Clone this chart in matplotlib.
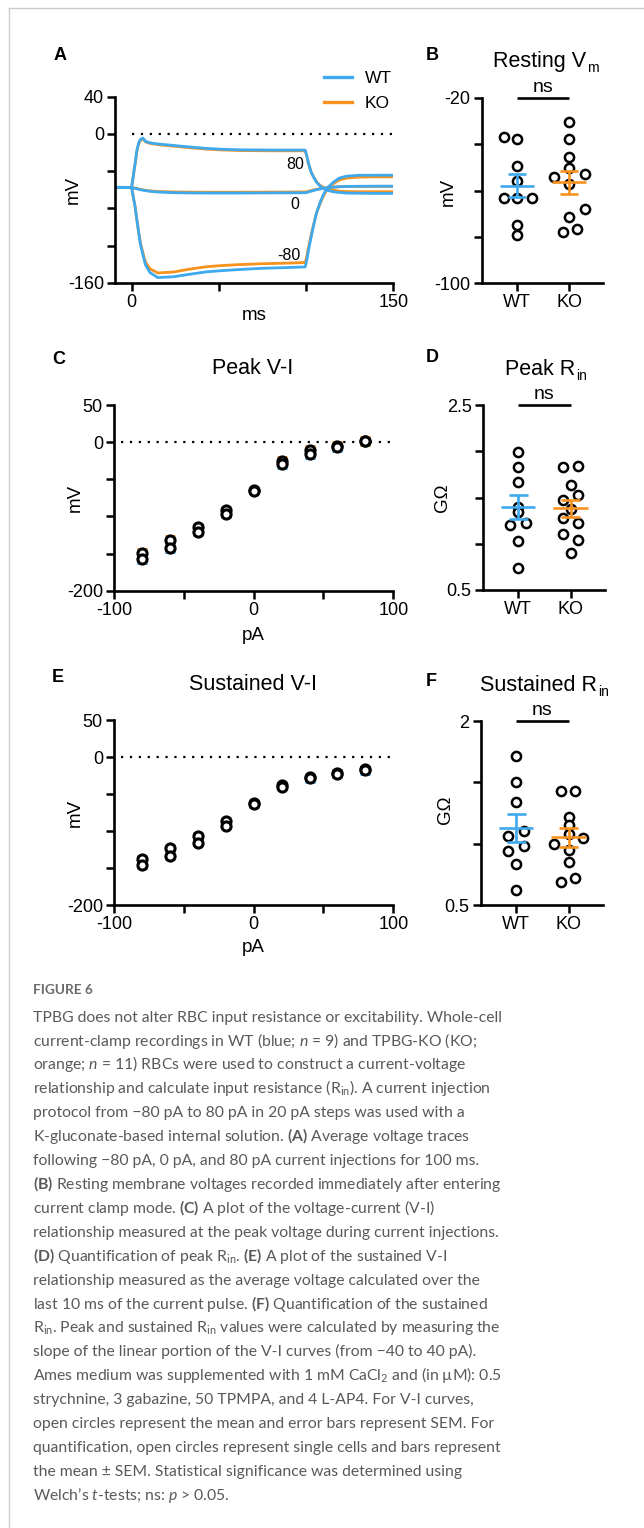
"""Figure 6: RBC input resistance and excitability, WT vs TPBG-KO."""

import matplotlib
matplotlib.use("Agg")
import matplotlib.pyplot as plt
from matplotlib.lines import Line2D

W, H = 644, 1528

plt.rcParams["font.family"] = ["Liberation Sans", "DejaVu Sans"]
plt.rcParams["mathtext.fontset"] = "custom"
plt.rcParams["mathtext.rm"] = "Lato"
plt.rcParams["mathtext.it"] = "Lato:italic"
plt.rcParams["mathtext.bf"] = "Lato:bold"

BLUE = "#3ea9ee"
ORANGE = "#f7921e"

# ---- data ---------------------------------------------------------------
# A: averaged voltage traces (ms, mV)
trace_t = [-10, -5, 0, 1, 2, 3, 4, 5, 6.5, 8, 10.5, 15, 24, 33, 43, 52, 62,
           75, 88, 99.5, 100.5, 101.3, 103, 104.5, 106, 108, 110, 112, 115.6,
           119, 123, 130, 140, 150]
wt_p80 = [-57.5, -57.5, -57.6, -45, -32, -18, -10, -6, -4.5, -8, -9.6, -10.8,
          -12.4, -14, -15.6, -16.5, -17.1, -17.3, -17.4, -17.4, -24, -31,
          -41.6, -47, -52, -56, -58.7, -60.5, -62.2, -63, -63.6, -63.8, -64, -64]
ko_p80 = [-57.5, -57.5, -57.6, -45, -33, -19, -11, -7, -5.5, -8.5, -10.2,
          -11.5, -13.2, -14.8, -16.4, -17.3, -17.9, -18.1, -18.2, -18.2, -24.5,
          -31.5, -41.5, -46.8, -51.5, -55.2, -57.6, -59.2, -60.6, -61.5, -62,
          -62.2, -62.2, -62.2]
wt_0 = [-57.5, -57.5, -57.6, -58, -58.5, -59, -59.5, -60, -60.5, -61, -61.7,
        -62.5, -63.2, -63.5, -63.6, -63.6, -63.6, -63.5, -63.4, -63.3, -63,
        -62.5, -61.5, -60.7, -60, -59.2, -58.5, -58, -57.3, -56.8, -56.5,
        -56.3, -56.2, -56.2]
ko_0 = [-57.5, -57.5, -57.6, -58, -58.4, -58.8, -59.2, -59.6, -60.1, -60.6,
        -61.2, -61.9, -62.4, -62.6, -62.7, -62.7, -62.7, -62.6, -62.5, -62.4,
        -62.1, -61.7, -60.9, -60.2, -59.6, -58.9, -58.3, -57.8, -57.2, -56.8,
        -56.6, -56.5, -56.4, -56.4]
wt_m80 = [-57.5, -57.5, -57.6, -68, -78, -92, -105, -118, -130, -141, -149,
          -154.5, -153.6, -151, -148.3, -147, -145.8, -144.5, -143.8, -143,
          -135, -126, -110, -97, -85, -74, -65, -58.5, -52, -47.5, -45.5,
          -44.5, -44.4, -44.4]
ko_m80 = [-57.5, -57.5, -57.6, -68, -78, -92, -105, -117, -128, -138, -145,
          -149.5, -148.5, -145.5, -142.8, -141.5, -140.5, -139.6, -139, -138.3,
          -131, -123, -108, -96, -85, -75, -66.5, -60, -53.5, -49.5, -47.5,
          -46.5, -46.2, -46.2]
trace_labels = ["80", "0", "-80"]
trace_label_t = [93.6, 93.6, 90]
trace_label_v = [-32.7, -76, -131]

# B: resting Vm (mV)
rest_wt = [-36.8, -37.9, -49.3, -56.0, -63.4, -63.4, -63.4, -74.8, -79.2]
rest_wt_dx = [-0.25, 0, 0, 0, -0.25, 0, 0.28, 0, 0]
rest_ko = [-30.3, -37.9, -45.4, -50.4, -54.0, -53.0, -57.0, -68.1, -71.3,
           -77.7, -76.7]
rest_ko_dx = [0, 0, 0, 0, -0.28, 0.3, 0, 0.3, 0, -0.12, 0.16]
rest_mean = [-58.0, -56.5]
rest_sem = [4.95, 4.8]

# C / E: V-I curves (pA, mV)
currents = [-80, -60, -40, -20, 0, 20, 40, 60, 80]
peak_wt = [-157.8, -142.9, -121.3, -96.6, -65.6, -29.7, -15.7, -6.7, 0.9]
peak_ko = [-148.8, -131.7, -114.6, -91.2, -64.3, -25.2, -11.2, -4.9, 1.8]
peak_wt_sem = [5.5, 5.5, 4, 4, 3, 5.5, 5.5, 5.5, 5]
peak_ko_sem = [5.5, 5.5, 4, 4, 3, 5.5, 5.5, 5, 5.5]
sus_wt = [-145.9, -133.8, -115.8, -92.8, -64.0, -40.1, -28.8, -22.5, -18.0]
sus_ko = [-138.3, -123.4, -106.3, -86.5, -62.6, -37.8, -27.5, -21.2, -16.7]
sus_wt_sem = [4.5, 4.5, 3.5, 3.5, 3, 3, 4.5, 4.5, 4.5]
sus_ko_sem = [4.5, 4, 3.5, 3.5, 3, 3, 3.5, 3.5, 3.5]

# D: peak Rin (GOhm)
prin_wt = [1.995, 1.833, 1.671, 1.40, 1.347, 1.203, 1.228, 1.030, 0.741]
prin_wt_dx = [0, 0, 0, 0, 0, -0.15, 0.15, 0, 0]
prin_ko = [1.833, 1.841, 1.635, 1.527, 1.473, 1.38, 1.275, 1.228, 1.105,
           1.041, 0.904]
prin_ko_dx = [-0.14, 0.15, 0, 0.15, -0.14, 0, -0.14, 0.15, -0.14, 0.15, 0]
prin_mean = [1.394, 1.383]
prin_sem = [0.13, 0.09]

# F: sustained Rin (GOhm)
srin_wt = [1.715, 1.503, 1.342, 1.103, 1.065, 0.984, 0.940, 0.834, 0.622]
srin_wt_dx = [0, 0, 0, 0.15, -0.15, 0.15, -0.15, 0, 0]
srin_ko = [1.429, 1.429, 1.220, 1.152, 1.08, 0.995, 1.043, 0.95, 0.853,
           0.690, 0.723]
srin_ko_dx = [-0.14, 0.13, 0, 0, 0, -0.27, 0.27, 0, 0, -0.14, 0.13]
srin_mean = [1.125, 1.052]
srin_sem = [0.115, 0.078]

groups = ["WT", "KO"]

caption_lines = [
    "TPBG does not alter RBC input resistance or excitability. Whole-cell",
    "current-clamp recordings in WT (blue; $\\mathit{n}$ = 9) and TPBG-KO (KO;",
    "orange; $\\mathit{n}$ = 11) RBCs were used to construct a current-voltage",
    "relationship and calculate input resistance ($\\mathrm{R}_{\\mathrm{in}}$). A current injection",
    "protocol from \u221280 pA to 80 pA in 20 pA steps was used with a",
    "K-gluconate-based internal solution. $\\mathbf{(A)}$ Average voltage traces",
    "following \u221280 pA, 0 pA, and 80 pA current injections for 100 ms.",
    "$\\mathbf{(B)}$ Resting membrane voltages recorded immediately after entering",
    "current clamp mode. $\\mathbf{(C)}$ A plot of the voltage-current (V-I)",
    "relationship measured at the peak voltage during current injections.",
    "$\\mathbf{(D)}$ Quantification of peak $\\mathrm{R}_{\\mathrm{in}}$. $\\mathbf{(E)}$ A plot of the sustained V-I",
    "relationship measured as the average voltage calculated over the",
    "last 10 ms of the current pulse. $\\mathbf{(F)}$ Quantification of the sustained",
    "$\\mathrm{R}_{\\mathrm{in}}$. Peak and sustained $\\mathrm{R}_{\\mathrm{in}}$ values were calculated by measuring the",
    "slope of the linear portion of the V-I curves (from \u221240 to 40 pA).",
    "Ames medium was supplemented with 1 mM $\\mathrm{CaCl}_{2}$ and (in \u00b5M): 0.5",
    "strychnine, 3 gabazine, 50 TPMPA, and 4 L-AP4. For V-I curves,",
    "open circles represent the mean and error bars represent SEM. For",
    "quantification, open circles represent single cells and bars represent",
    "the mean \u00b1 SEM. Statistical significance was determined using",
    "Welch\u2019s $\\mathit{t}$-tests; ns: $\\mathit{p}$ > 0.05.",
]

# ---- layout helpers -----------------------------------------------------
fig = plt.figure(figsize=(W / 100, H / 100), dpi=100)


def add_ax(left, top, right, bottom):
    ax = fig.add_axes([left / W, 1 - bottom / H, (right - left) / W,
                       (bottom - top) / H])
    for side in ("top", "right"):
        ax.spines[side].set_visible(False)
    for side in ("left", "bottom"):
        ax.spines[side].set_linewidth(1.9)
    ax.tick_params(direction="out", length=6, width=1.8, labelsize=13,
                   pad=2)
    return ax


def fig_text(x, y, s, **kw):
    return fig.text(x / W, 1 - y / H, s, **kw)


def title_with_sub(ax, x, main, sub):
    t = ax.text(x, 1.194, main, transform=ax.transAxes, ha="left",
                va="center", fontsize=15.5)
    ax.annotate(sub, xy=(1, 0), xycoords=t, xytext=(0.5, 0),
                textcoords="offset points", ha="left", va="baseline",
                fontsize=10)


def dot_panel(ax, wt, wt_dx, ko, ko_dx, means, sems):
    for i, (vals, dx) in enumerate([(wt, wt_dx), (ko, ko_dx)]):
        ax.plot([i + d for d in dx], vals, "o", mfc="white", mec="black",
                ms=6.6, mew=1.8, zorder=2)
    for i, colour in enumerate([BLUE, ORANGE]):
        m, s = means[i], sems[i]
        ax.hlines(m, i - 0.33, i + 0.33, color=colour, lw=1.9, zorder=3)
        ax.vlines(i, m - s, m + s, color=colour, lw=1.9, zorder=3)
        ax.hlines([m - s, m + s], i - 0.18, i + 0.18, color=colour, lw=1.9,
                  zorder=3)
    ax.set_xlim(-0.68, 1.66)
    ax.set_xticks([0, 1])
    ax.set_xticklabels(groups)
    top = ax.get_ylim()[1]
    ax.hlines(top, 0, 1, color="black", lw=1.9, clip_on=False)
    ax.annotate("ns", xy=(0.5, top), xytext=(0, 7.5),
                textcoords="offset points", ha="center", va="center",
                fontsize=14, annotation_clip=False)


def vi_panel(ax, wt, wt_sem, ko, ko_sem):
    ax.hlines(0, -95, 100, color="black", lw=1.6, linestyles=(0, (1, 3)))
    ax.errorbar(currents, wt, yerr=wt_sem, fmt="none", ecolor=BLUE,
                elinewidth=2, capsize=3.3, capthick=2, zorder=2)
    ax.errorbar(currents, ko, yerr=ko_sem, fmt="none", ecolor=ORANGE,
                elinewidth=2, capsize=3.3, capthick=2, zorder=2)
    ax.plot(currents, ko, "o", mfc="white", mec="black", ms=6.6, mew=2.2,
            zorder=3)
    ax.plot(currents, wt, "o", mfc="white", mec="black", ms=6.6, mew=2.2,
            zorder=3)
    ax.set_xlim(-100, 100)
    ax.set_ylim(-200, 50)
    ax.set_yticks([-200, -150, -100, -50, 0, 50])
    ax.set_yticklabels(["-200", "", "", "", "0", "50"])
    ax.set_xticks([-100, -50, 0, 50, 100])
    ax.set_xticklabels(["-100", "", "0", "", "100"])
    ax.set_xlabel("pA", fontsize=13.5)
    ax.set_ylabel("mV", fontsize=13.5)


# ---- A: traces ----------------------------------------------------------
axA = add_ax(115, 96.7, 393.3, 282.7)
axA.hlines(0, 0, 150, color="black", lw=1.6, linestyles=(0, (1, 3)))
for ko_v in [ko_p80, ko_0, ko_m80]:
    axA.plot(trace_t, ko_v, color=ORANGE, lw=2, solid_joinstyle="round")
for wt_v in [wt_p80, wt_0, wt_m80]:
    axA.plot(trace_t, wt_v, color=BLUE, lw=2, solid_joinstyle="round")
for lab, tx, vy in zip(trace_labels, trace_label_t, trace_label_v):
    axA.text(tx, vy, lab, ha="center", va="center", fontsize=11.5)
axA.set_xlim(-9.5, 150)
axA.set_ylim(-160, 40)
axA.set_yticks([-160, -120, -80, -40, 0, 40])
axA.set_yticklabels(["-160", "", "", "", "0", "40"])
axA.set_xticks([0, 50, 100, 150])
axA.set_xticklabels(["0", "", "", "150"])
axA.set_xlabel("ms", fontsize=13.5)
axA.set_ylabel("mV", fontsize=13.5)
axA.xaxis.set_label_coords(0.5, -0.179)
axA.xaxis.label.set_va("center")
axA.yaxis.set_label_coords(-0.151, 0.5)
axA.yaxis.label.set_va("center")
leg_handles = [Line2D([], [], color=BLUE, lw=2.4),
               Line2D([], [], color=ORANGE, lw=2.4)]
fig.legend(leg_handles, groups, loc="upper left",
           bbox_to_anchor=(324 / W, 1 - 70.8 / H), frameon=False,
           fontsize=12.5, handlelength=1.6, handletextpad=0.75,
           labelspacing=0.55, borderpad=0, borderaxespad=0)

# ---- B: resting Vm ------------------------------------------------------
axB = add_ax(481.7, 97.7, 603.3, 283.3)
axB.set_ylim(-100, -20)
axB.set_yticks([-100, -80, -60, -40, -20])
axB.set_yticklabels(["-100", "", "", "", "-20"])
dot_panel(axB, rest_wt, rest_wt_dx, rest_ko, rest_ko_dx, rest_mean, rest_sem)
axB.set_ylabel("mV", fontsize=13.5)
axB.yaxis.set_label_coords(-0.277, 0.49)
axB.yaxis.label.set_va("center")
title_with_sub(axB, 0.095, "Resting V", "m")

# ---- C: peak V-I --------------------------------------------------------
axC = add_ax(114, 405, 393.3, 590.7)
vi_panel(axC, peak_wt, peak_wt_sem, peak_ko, peak_ko_sem)
axC.xaxis.set_label_coords(0.5, -0.239)
axC.xaxis.label.set_va("center")
axC.yaxis.set_label_coords(-0.14, 0.5)
axC.yaxis.label.set_va("center")
axC.text(0.498, 1.194, "Peak V-I", transform=axC.transAxes, ha="center",
         va="center", fontsize=15.5)

# ---- D: peak Rin --------------------------------------------------------
axD = add_ax(482.7, 405, 605, 590)
axD.set_ylim(0.5, 2.5)
axD.set_yticks([0.5, 1.0, 1.5, 2.0, 2.5])
axD.set_yticklabels(["0.5", "", "", "", "2.5"])
dot_panel(axD, prin_wt, prin_wt_dx, prin_ko, prin_ko_dx, prin_mean, prin_sem)
axD.set_ylabel("G\u03a9", fontsize=13.5)
axD.yaxis.set_label_coords(-0.325, 0.5)
axD.yaxis.label.set_va("center")
title_with_sub(axD, 0.183, "Peak R", "in")

# ---- E: sustained V-I ---------------------------------------------------
axE = add_ax(114, 720, 393.3, 905)
vi_panel(axE, sus_wt, sus_wt_sem, sus_ko, sus_ko_sem)
axE.xaxis.set_label_coords(0.5, -0.232)
axE.xaxis.label.set_va("center")
axE.yaxis.set_label_coords(-0.14, 0.5)
axE.yaxis.label.set_va("center")
axE.text(0.498, 1.194, "Sustained V-I", transform=axE.transAxes,
         ha="center", va="center", fontsize=15.5)

# ---- F: sustained Rin ---------------------------------------------------
axF = add_ax(480.7, 721, 603, 905)
axF.set_ylim(0.5, 2.0)
axF.set_yticks([0.5, 1.0, 1.5, 2.0])
axF.set_yticklabels(["0.5", "", "", "2"])
dot_panel(axF, srin_wt, srin_wt_dx, srin_ko, srin_ko_dx, srin_mean, srin_sem)
axF.set_ylabel("G\u03a9", fontsize=13.5)
axF.yaxis.set_label_coords(-0.29, 0.52)
axF.yaxis.label.set_va("center")
title_with_sub(axF, -0.006, "Sustained R", "in")

# ---- panel letters ------------------------------------------------------
for letter, (lx, ly) in zip("ABCDEF", [(60, 56), (432, 56), (59, 359),
                                       (432, 357), (58, 678), (431, 681)]):
    fig_text(lx, ly, letter, ha="center", va="center", fontsize=13,
             fontweight="bold")

# ---- frame and caption --------------------------------------------------
frame = "#cccccc"
fig.add_artist(Line2D([9 / W, 9 / W], [0, 1 - 7.5 / H], color=frame, lw=1,
                      transform=fig.transFigure))
fig.add_artist(Line2D([9 / W, 1], [1 - 7.5 / H, 1 - 7.5 / H], color=frame,
                      lw=1, transform=fig.transFigure))

fig_text(33, 994, "FIGURE 6", ha="left", va="baseline", fontsize=9.8,
         fontweight="bold", color="#6b6b6b", family=["Lato", "DejaVu Sans"])
for i, line in enumerate(caption_lines):
    fig_text(33, 1021.7 + i * 23.9, line, ha="left", va="baseline",
             fontsize=11.3, color="#595959", family=["Lato", "DejaVu Sans"])

fig.savefig("out.png", dpi=100)
